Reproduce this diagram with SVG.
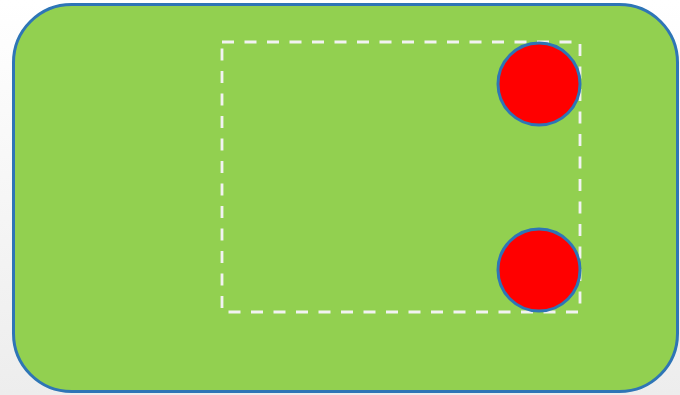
<svg xmlns="http://www.w3.org/2000/svg" width="680" height="395" viewBox="0 0 680 395">
<defs>
<linearGradient id="bg" x1="0" y1="0" x2="0" y2="1">
<stop offset="0" stop-color="#ffffff"/>
<stop offset="1" stop-color="#ededed"/>
</linearGradient>
<style>
.dot{fill:#FF0000;stroke:#2E75B6;stroke-width:3}
</style>
</defs>
<rect x="0" y="0" width="680" height="395" fill="url(#bg)"/>
<g id="board">
<rect x="13.5" y="4.5" width="664" height="387" rx="58" ry="58" fill="#92D050" stroke="#2E75B6" stroke-width="3"/>
</g>
<g id="zone">
<rect x="222" y="42" width="358" height="270" fill="none" stroke="#F2F2F2" stroke-width="2.8" stroke-dasharray="12 10.5"/>
</g>
<g id="dot-top"><circle class="dot" cx="539" cy="84" r="41"/></g>
<g id="dot-bottom"><circle class="dot" cx="539" cy="270" r="41"/></g>
<g id="connectors"></g>
</svg>
